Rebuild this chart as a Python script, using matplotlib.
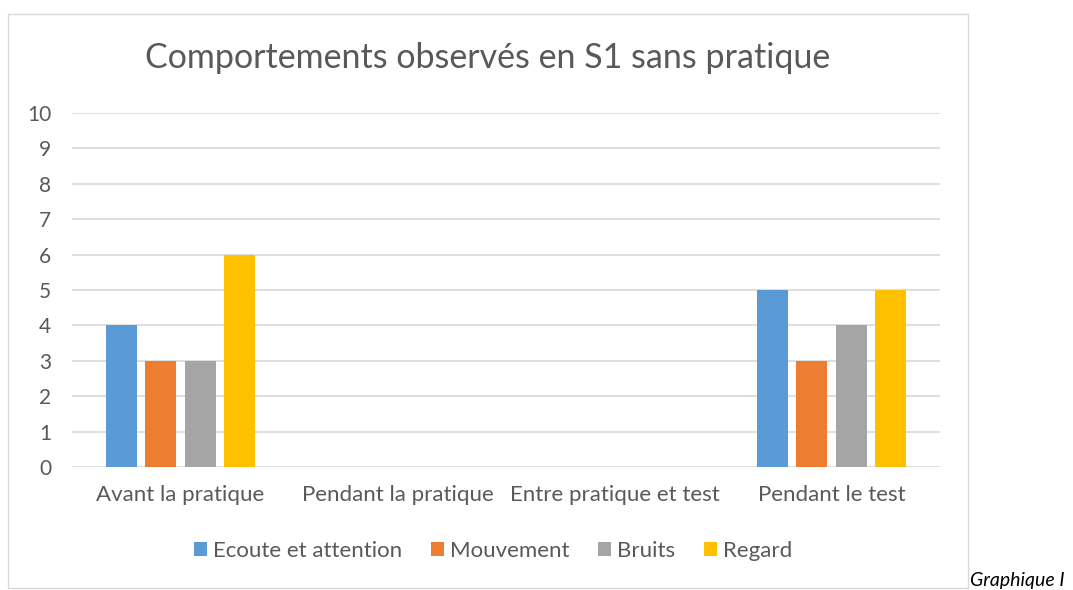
import matplotlib.pyplot as plt
import numpy as np
from matplotlib.patches import Rectangle

plt.rcParams['font.family'] = ['Lato', 'DejaVu Sans']

# Data
categories = ["Avant la pratique", "Pendant la pratique", "Entre pratique et test", "Pendant le test"]
series_names = ["Ecoute et attention", "Mouvement", "Bruits", "Regard"]
ecoute = [4, 0, 0, 5]
mouvement = [3, 0, 0, 3]
bruits = [3, 0, 0, 4]
regard = [6, 0, 0, 5]
colors = ["#5B9BD5", "#ED7D31", "#A5A5A5", "#FFC000"]

text_col = "#595959"
fig = plt.figure(figsize=(10.73, 5.90), dpi=100)
W, H = 1073, 590

# chart border
fig.patches.append(Rectangle((8 / W, 1 - 588 / H), 960 / W, 574 / H, transform=fig.transFigure,
                             fill=False, edgecolor="#D9D9D9", linewidth=1.0))

ax = fig.add_axes([72 / W, 1 - 467 / H, 868 / W, 354 / H])
x = np.arange(len(categories))
bar_w = 0.1425
step = 0.1825
for i, (vals, name) in enumerate(zip([ecoute, mouvement, bruits, regard], series_names)):
    ax.bar(x + (i - 1.5) * step, vals, width=bar_w, color=colors[i], label=name, zorder=3)

ax.set_xlim(-0.5, len(categories) - 0.5)
ax.set_ylim(0, 10)
ax.set_yticks(range(0, 11))
ax.grid(axis="y", color="#D9D9D9", linewidth=1.2, zorder=0)
for s in ax.spines.values():
    s.set_visible(False)
ax.tick_params(axis="y", length=0, pad=15, labelsize=15, labelcolor=text_col)
ax.set_xticks(x)
ax.set_xticklabels(categories)
ax.tick_params(axis="x", length=0, pad=13, labelsize=16, labelcolor=text_col)

fig.text(488 / W, 1 - 58 / H, "Comportements observés en S1 sans pratique", ha="center", va="center",
         fontsize=24.5, color=text_col)

ax.legend(loc="center", bbox_to_anchor=(493 / W, 1 - 551 / H), bbox_transform=fig.transFigure,
          ncol=4, frameon=False, fontsize=16, labelcolor=text_col, handlelength=0.6, handleheight=0.6,
          handletextpad=0.25, columnspacing=1.3)

fig.text(970 / W, 1 - 589 / H, "Graphique I", ha="left", va="bottom", fontsize=14, style="italic",
         color="black")

fig.savefig("out.png", dpi=100)
